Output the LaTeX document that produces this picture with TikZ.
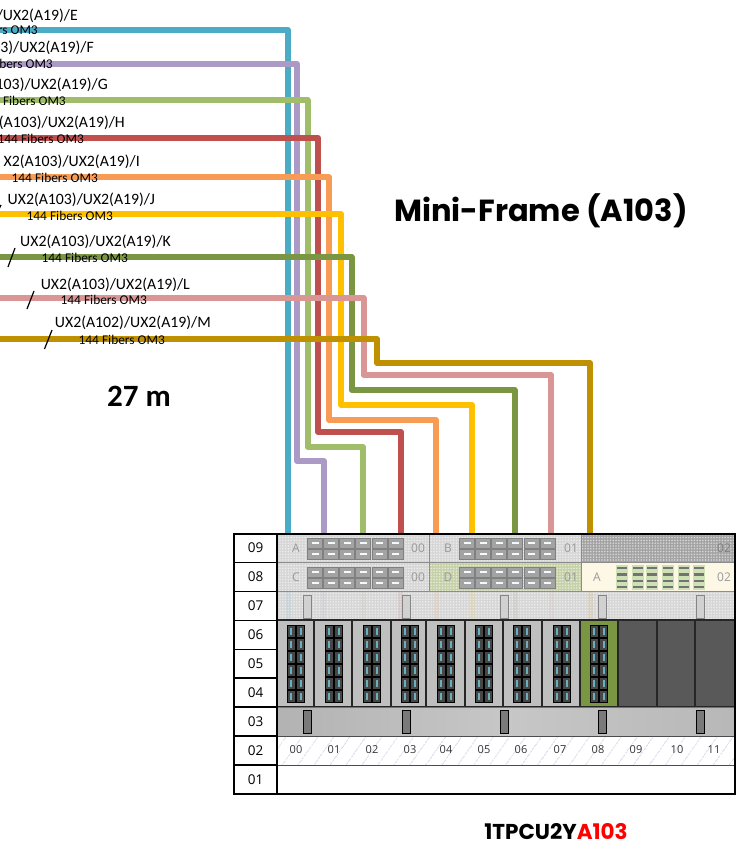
\documentclass[tikz,border=0pt]{standalone}
\usepackage{fontspec}
\setmainfont{Carlito}
\newfontfamily\rackfont{Open Sans}
\newfontfamily\titlefont{Poppins}
\usetikzlibrary{patterns.meta}
\begin{document}
\begin{tikzpicture}[
    x=1pt, y=-1pt,
    every node/.style={font=\rmfamily, align=center, text=black},
    cable/.style={line width=6pt, line join=round},
    cableText/.style={font=\fontsize{15.8}{18}\selectfont, anchor=east, inner sep=0pt},
    fiberText/.style={font=\fontsize{13.4}{15}\selectfont, anchor=east, inner sep=0pt},
    tickMark/.style={line width=1.2pt, draw=black},
    rowCell/.style={rectangle, draw=black, fill=white, line width=1.5pt, minimum width=43pt, minimum height=29pt, inner sep=0pt, font=\rackfont\fontsize{13.5}{15}\selectfont},
    panel/.style={rectangle, draw=black!45, line width=1pt, inner sep=0pt, minimum height=29pt},
    checker/.style={preaction={fill=#1}, pattern={Dots[distance=2.8pt, radius=0.9pt]}, pattern color=white!55!#1},
    rackText/.style={font=\rackfont\fontsize{12}{14}\selectfont, text=black!40, inner sep=0pt},
    slotBox/.style={rectangle, draw=black!85, line width=1.3pt, minimum width=38pt, minimum height=87pt, inner sep=0pt},
    patchPort/.style={draw=black!50, fill=black!36, line width=0.8pt},
    patchSlit/.style={fill=black!20!cyan!5!white},
    portOuter/.style={draw=black, fill=black!72, line width=0.7pt},
    portSlit/.style={fill=portTeal},
    handleDim/.style={rectangle, draw=black!48, fill=black!18, line width=1pt, minimum width=8pt, minimum height=23pt, inner sep=0pt},
    handleDark/.style={rectangle, draw=black, fill=black!52, line width=1pt, minimum width=8pt, minimum height=23pt, inner sep=0pt},
    slotNum/.style={font=\rackfont\fontsize{11}{13}\selectfont, text=black!80, inner sep=0pt}
  ]
    \definecolor{cableTeal}{RGB}{75,172,198}
    \definecolor{cablePurple}{RGB}{172,154,198}
    \definecolor{cableGreen}{RGB}{160,190,105}
    \definecolor{cableRed}{RGB}{192,80,77}
    \definecolor{cableOrange}{RGB}{247,155,85}
    \definecolor{cableYellow}{RGB}{255,192,0}
    \definecolor{cableOlive}{RGB}{122,150,66}
    \definecolor{cablePink}{RGB}{217,150,148}
    \definecolor{cableGold}{RGB}{191,144,0}
    \definecolor{portTeal}{RGB}{105,175,190}
    \definecolor{creamFill}{RGB}{253,247,230}
    \definecolor{sageFill}{RGB}{197,208,168}
    \definecolor{dashFill}{RGB}{205,225,180}
    \definecolor{hatchTone}{RGB}{205,195,225}

    \clip (0,0) rectangle (747,854);

    % cables
    \coordinate (startE) at (0,30);
    \coordinate (endE) at (288,534);
    \coordinate (startF) at (0,64);
    \coordinate (bendF) at (297,461);
    \coordinate (endF) at (324,534);
    \coordinate (startG) at (0,100);
    \coordinate (bendG) at (307.5,447);
    \coordinate (endG) at (363,534);
    \coordinate (startH) at (0,138);
    \coordinate (bendH) at (318,432);
    \coordinate (endH) at (401,534);
    \coordinate (startI) at (0,177);
    \coordinate (bendI) at (329,420);
    \coordinate (endI) at (436,534);
    \coordinate (startJ) at (0,214);
    \coordinate (bendJ) at (341,405);
    \coordinate (endJ) at (472,534);
    \coordinate (startK) at (0,257);
    \coordinate (bendK) at (351.5,390);
    \coordinate (endK) at (514.5,534);
    \coordinate (startL) at (0,298);
    \coordinate (bendL) at (363.5,375);
    \coordinate (endL) at (551,534);
    \coordinate (startM) at (0,339);
    \coordinate (bendM) at (377,363);
    \coordinate (endM) at (590,534);

    \draw[cable, draw=cableTeal] (startE) -| (endE);
    \draw[cable, draw=cablePurple] (startF) -| (bendF) -| (endF);
    \draw[cable, draw=cableGreen] (startG) -| (bendG) -| (endG);
    \draw[cable, draw=cableRed] (startH) -| (bendH) -| (endH);
    \draw[cable, draw=cableOrange] (startI) -| (bendI) -| (endI);
    \draw[cable, draw=cableYellow] (startJ) -| (bendJ) -| (endJ);
    \draw[cable, draw=cableOlive] (startK) -| (bendK) -| (endK);
    \draw[cable, draw=cablePink] (startL) -| (bendL) -| (endL);
    \draw[cable, draw=cableGold] (startM) -| (bendM) -| (endM);

    % cable labels
    \node[cableText] (labelE) at (78,15.5) {/UX2(A19)/E};
    \node[fiberText] (fiberE) at (38,30.5) {rs OM3};
    \node[cableText] (labelF) at (94,47.5) {3)/UX2(A19)/F};
    \node[fiberText] (fiberF) at (53,63.5) {bers OM3};
    \node[cableText] (labelG) at (108,84.5) {103)/UX2(A19)/G};
    \node[fiberText] (fiberG) at (66,100.5) {Fibers OM3};
    \node[cableText] (labelH) at (125,122.5) {(A103)/UX2(A19)/H};
    \node[fiberText] (fiberH) at (84,138.5) {144 Fibers OM3};
    \node[cableText] (labelI) at (140,161.5) {X2(A103)/UX2(A19)/I};
    \node[fiberText] (fiberI) at (98,177.5) {144 Fibers OM3};
    \node[cableText] (labelJ) at (155,199.5) {UX2(A103)/UX2(A19)/J};
    \node[fiberText] (fiberJ) at (113,215.5) {144 Fibers OM3};
    \node[cableText] (labelK) at (171,241.5) {UX2(A103)/UX2(A19)/K};
    \node[fiberText] (fiberK) at (128,257.5) {144 Fibers OM3};
    \node[cableText] (labelL) at (190,284.5) {UX2(A103)/UX2(A19)/L};
    \node[fiberText] (fiberL) at (147,299.5) {144 Fibers OM3};
    \node[cableText] (labelM) at (211,322.5) {UX2(A102)/UX2(A19)/M};
    \node[fiberText] (fiberM) at (165,339.5) {144 Fibers OM3};

    \draw[tickMark] (-8,224) -- (1,205);
    \draw[tickMark] (8,267) -- (15,248);
    \draw[tickMark] (27,309) -- (34,291);
    \draw[tickMark] (44.5,349) -- (52,330);

    \node[font=\titlefont\bfseries\fontsize{30.5}{34}\selectfont] (title) at (541,211) {Mini-Frame (A103)};
    \node[font=\bfseries\fontsize{31}{34}\selectfont] (length) at (139,396) {27 m};
    \node[font=\titlefont\bfseries\fontsize{21.5}{24}\selectfont, inner sep=0pt] (caption) at (556,832) {1TPCU2Y\textcolor{red}{A103}};

    % row 09 and 08 panels
    \node[panel, checker=black!16, minimum width=152pt] (panelA) at (353,548) {};
    \node[panel, checker=black!16, minimum width=152pt] (panelB) at (505,548) {};
    \node[panel, checker=black!36, minimum width=154pt] (panelBlank) at (658,548) {};
    \node[panel, checker=black!16, minimum width=152pt] (panelC) at (353,577) {};
    \node[panel, checker=sageFill, minimum width=152pt] (panelD) at (505,577) {};
    \node[panel, fill=creamFill, minimum width=154pt] (panelE) at (658,577) {};

    \node[rackText] (nameA) at (296,548) {A};
    \node[rackText] (unitA) at (418,548) {00};
    \node[rackText] (nameB) at (448,548) {B};
    \node[rackText] (unitB) at (571,548) {01};
    \node[rackText, text=black!50] (unitBlank) at (724,548) {02};
    \node[rackText] (nameC) at (296,577) {C};
    \node[rackText] (unitC) at (418,577) {00};
    \node[rackText] (nameD) at (448,577) {D};
    \node[rackText] (unitD) at (571,577) {01};
    \node[rackText] (nameE) at (597,577) {A};
    \node[rackText] (unitE) at (724,577) {02};

    \foreach \bx in {307,459} {
      \foreach \by in {538,549,567,578} {
        \foreach \i in {0,...,5} {
          \draw[patchPort] ({\bx+\i*16.1+0.5},\by) rectangle ++(15,10);
          \fill[patchSlit] ({\bx+\i*16.1+4.5},{\by+4}) rectangle ++(7,2);
        }
      }
    }
    \foreach \dx in {622,638,652,668,684,699} {
      \fill[dashFill] ({\dx-6},565) rectangle ({\dx+6},590);
      \foreach \dy in {568,574.5,581,587} {
        \fill[black!55] ({\dx-5},{\dy-1.2}) rectangle ({\dx+5},{\dy+1.2});
      }
    }

    % row 07
    \node[panel, checker=black!16, minimum width=458pt] (rowSeven) at (506,606) {};
    \foreach \sx/\tone in {288/cableTeal,323/cablePurple,363/cableGreen,400/cableRed,436/cableOrange,472/cableYellow,515/cableOlive,551/cablePink,590/cableGold} {
      \fill[\tone, opacity=0.09] ({\sx-2.5},592) rectangle ({\sx+2.5},619);
    }
    \foreach \hx in {307.5,406,504,602,700} {
      \node[handleDim] at (\hx,606.5) {};
    }

    % rows 06 to 04
    \foreach \sx/\sw/\tone in {295.5/37/black!25,333/38/black!25,371.5/39/black!25,408.5/35/black!25,445.5/39/black!25,484/38/black!25,522.5/39/black!25,561/38/black!25,599/38/cableOlive,637.5/39/black!65,676/38/black!65,715/40/black!65} {
      \node[slotBox, fill=\tone, minimum width=\sw pt] at (\sx,663.5) {};
    }
    \foreach \cx in {296,334,372,410,446,484,522,562,599} {
      \foreach \ry in {625,638,651,664,677,690} {
        \foreach \off in {-9,0.8} {
          \draw[portOuter] ({\cx+\off},\ry) rectangle ++(8,12);
          \fill[portSlit] ({\cx+\off+2.8},{\ry+2.5}) rectangle ++(2.6,7);
        }
      }
    }

    % row 03
    \node[panel, draw=black!55, left color=black!30, right color=black!28, middle color=black!22, minimum width=458pt] (rowThree) at (506,721.5) {};
    \foreach \hx in {307.5,406,504,602,700} {
      \node[handleDark] at (\hx,721.5) {};
    }

    % rows 02 and 01
    \node[panel, draw=black!70, pattern={Lines[angle=55, distance=13pt, line width=0.7pt]}, pattern color=hatchTone, minimum width=458pt] (rowTwo) at (506,750.5) {};
    \node[panel, draw=black!70, fill=white, minimum width=458pt] (rowOne) at (506,779.5) {};
    \node[slotNum] (num00) at (296,750) {00};
    \node[slotNum] (num01) at (334,750) {01};
    \node[slotNum] (num02) at (372,750) {02};
    \node[slotNum] (num03) at (410,750) {03};
    \node[slotNum] (num04) at (446,750) {04};
    \node[slotNum] (num05) at (484,750) {05};
    \node[slotNum] (num06) at (521,750) {06};
    \node[slotNum] (num07) at (560,750) {07};
    \node[slotNum] (num08) at (598,750) {08};
    \node[slotNum] (num09) at (636,750) {09};
    \node[slotNum] (num10) at (677,750) {10};
    \node[slotNum] (num11) at (714,750) {11};

    % row numbers and frame
    \node[rowCell] (row09) at (255.5,548) {09};
    \node[rowCell] (row08) at (255.5,577) {08};
    \node[rowCell] (row07) at (255.5,606) {07};
    \node[rowCell] (row06) at (255.5,635) {06};
    \node[rowCell] (row05) at (255.5,664) {05};
    \node[rowCell] (row04) at (255.5,692.5) {04};
    \node[rowCell] (row03) at (255.5,721.5) {03};
    \node[rowCell] (row02) at (255.5,750.5) {02};
    \node[rowCell] (row01) at (255.5,779.5) {01};
    \draw[line width=2pt] (234,534) rectangle (735,794);
  \end{tikzpicture}
\end{document}
